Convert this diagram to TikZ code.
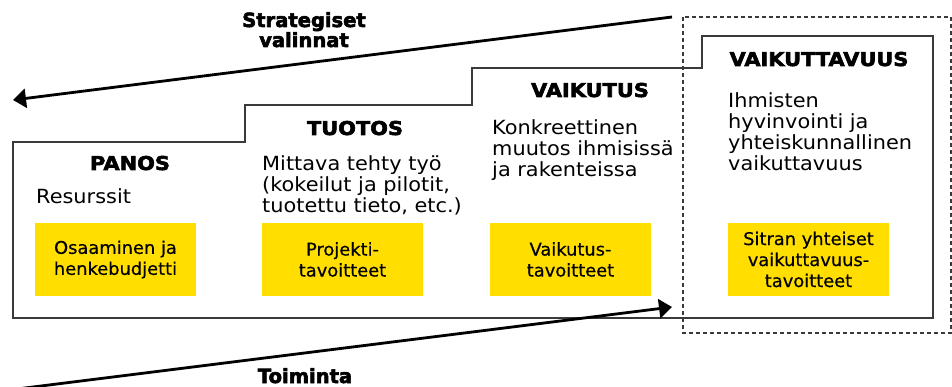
\documentclass[tikz,border=0pt]{standalone}
\usepackage{fontspec}
\setmainfont{DejaVu Sans}
\newfontfamily\headfont[FakeStretch=1.1,FakeBold=3]{DejaVu Sans}
\newfontfamily\labelfont[FakeBold=3]{DejaVu Sans}
\newfontfamily\bodyfont[FakeStretch=1.07]{DejaVu Sans}
\newfontfamily\goalfont[FakeStretch=1.02,FakeBold=0.4]{DejaVu Sans}
\usetikzlibrary{arrows.meta}
\definecolor{sitrayellow}{HTML}{FFDE00}
\definecolor{linegray}{HTML}{3A3A3A}
\begin{document}
\begin{tikzpicture}[x=1pt,y=-1pt,
  outline/.style={draw=linegray, line width=1.5pt},
  dashbox/.style={draw=linegray, line width=1.1pt, dash pattern=on 4pt off 3pt},
  flow/.style={line width=2.8pt, -{Triangle[length=13pt,width=19pt]}},
  goal/.style={fill=sitrayellow, minimum width=161pt, minimum height=73pt, align=center, inner sep=0pt, font=\goalfont\fontsize{17.5}{21}\selectfont},
  heading/.style={anchor=base, inner sep=0pt, font=\headfont\bfseries\fontsize{19}{22}\selectfont},
  body/.style={anchor=base west, align=left, inner sep=0pt, font=\bodyfont\fontsize{19.5}{21.3}\selectfont},
  flowlabel/.style={anchor=base, align=center, inner sep=0pt, font=\labelfont\bfseries\fontsize{19.5}{20}\selectfont}]
\useasboundingbox (0,0) rectangle (952,387);
% staircase outline
\draw[outline] (13,318) -- (13,142) -- (245,142) -- (245,105) -- (472,105) -- (472,68)
  -- (702,68) -- (702,36) -- (933,36) -- (933,318) -- cycle;
% dashed frame
\draw[dashbox] (683,17) rectangle (951,333);
% headings
\node[heading] (panos) at (130,170) {PANOS};
\node[heading] (tuotos) at (355,135) {TUOTOS};
\node[heading] (vaikutus) at (590,97) {VAIKUTUS};
\node[heading] (vaikuttavuus) at (819,66) {VAIKUTTAVUUS};
% body texts (anchor is the baseline of the last line)
\node[body] (resurssit) at (36,204) {Resurssit};
\node[body] (mittava) at (262,213) {Mittava tehty työ\\(kokeilut ja pilotit,\\tuotettu tieto, etc.)};
\node[body] (konkreettinen) at (492,177) {Konkreettinen\\muutos ihmisissä\\ja rakenteissa};
\node[body] (ihmisten) at (728,171) {Ihmisten\\hyvinvointi ja\\yhteiskunnallinen\\vaikuttavuus};
% yellow goal boxes
\node[goal] (g1) at (115.5,259.5) {Osaaminen ja\\henkebudjetti};
\node[goal] (g2) at (342.5,259.5) {Projekti-\\tavoitteet};
\node[goal] (g3) at (570.5,259.5) {Vaikutus-\\tavoitteet};
\node[goal] (g4) at (808.5,259.5) {Sitran yhteiset\\vaikuttavuus-\\tavoitteet};
% arrows
\coordinate (sStart) at (672,17);
\coordinate (sEnd) at (13,100);
\draw[flow] (sStart) -- (sEnd);
\coordinate (tStart) at (17,389);
\coordinate (tEnd) at (672,307);
\draw[flow] (tStart) -- (tEnd);
\node[flowlabel] (strat) at (304,47) {Strategiset\\valinnat};
\node[flowlabel] (toiminta) at (305,383) {Toiminta};
\end{tikzpicture}
\end{document}
